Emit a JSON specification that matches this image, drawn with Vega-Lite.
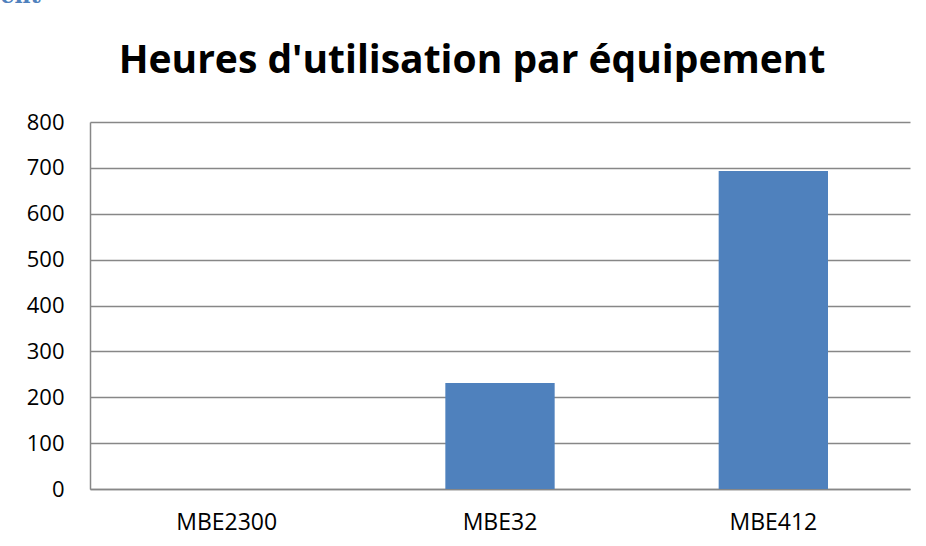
{
  "$schema": "https://vega.github.io/schema/vega-lite/v6.json",
  "width": 820,
  "height": 367,
  "autosize": {"type": "none"},
  "padding": {"left": 90, "top": 122, "right": 16, "bottom": 57},
  "background": "white",
  "title": {
    "text": "Heures d'utilisation par équipement",
    "font": "Open Sans",
    "fontSize": 39,
    "fontWeight": "bold",
    "color": "#000000",
    "anchor": "middle",
    "dx": -28,
    "baseline": "alphabetic",
    "offset": -128
  },
  "data": {
    "values": [
      {"equipement": "MBE2300", "heures": 0},
      {"equipement": "MBE32", "heures": 231},
      {"equipement": "MBE412", "heures": 693}
    ]
  },
  "mark": {"type": "bar", "color": "#4F81BD"},
  "encoding": {
    "x": {
      "field": "equipement",
      "type": "nominal",
      "sort": null,
      "scale": {"paddingInner": 0.6, "paddingOuter": 0.3},
      "axis": {
        "title": null,
        "labelAngle": 0,
        "labelFont": "Open Sans",
        "labelFontSize": 23,
        "labelColor": "#000000",
        "labelPadding": 22,
        "ticks": false,
        "domainColor": "#878787",
        "domainWidth": 1.5,
        "grid": false
      }
    },
    "y": {
      "field": "heures",
      "type": "quantitative",
      "scale": {"domain": [0, 800], "nice": false},
      "axis": {
        "title": "ent",
        "titleFont": "DejaVu Serif",
        "titleFontSize": 22,
        "titleFontWeight": "bold",
        "titleColor": "#4F81BD",
        "titleAngle": 0,
        "titleAlign": "left",
        "titleBaseline": "alphabetic",
        "titleX": -90,
        "titleY": -120,
        "values": [0, 100, 200, 300, 400, 500, 600, 700, 800],
        "labelFont": "Open Sans",
        "labelFontSize": 22,
        "labelColor": "#000000",
        "labelPadding": 26,
        "ticks": false,
        "domainColor": "#878787",
        "domainWidth": 1.5,
        "gridColor": "#878787",
        "gridWidth": 1.5,
        "gridOpacity": 1
      }
    }
  },
  "config": {
    "view": {"stroke": null}
  }
}
